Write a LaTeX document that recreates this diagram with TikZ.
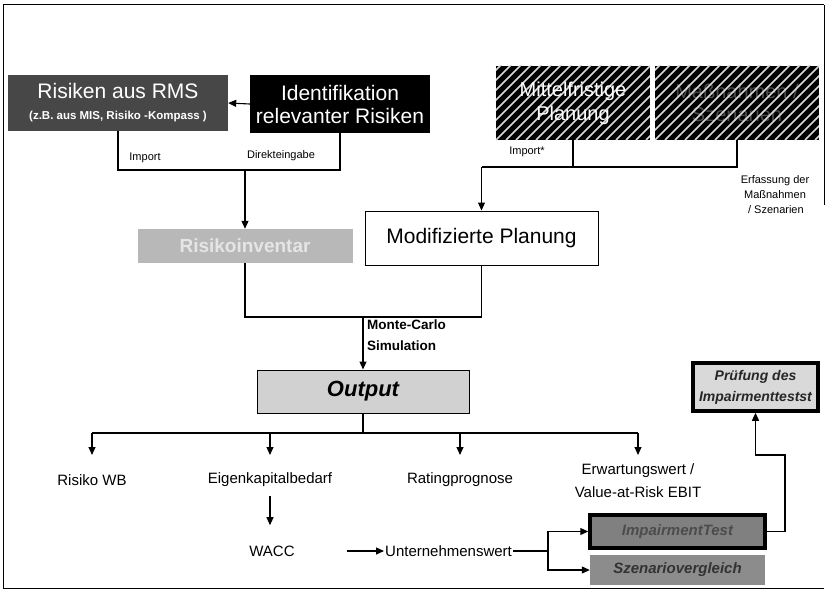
\documentclass[tikz,border=0pt]{standalone}
\usepackage{fontspec}
\setmainfont{Liberation Sans}
\usetikzlibrary{arrows.meta,calc}
\begin{document}
\begin{tikzpicture}[x=1pt,y=-1pt,
  conn/.style={line width=1.1pt,black},
  arr/.style={conn,-{Triangle[length=8pt,width=7pt]}},
  box/.style={rectangle,inner sep=0pt,align=center,font=\fontsize{21}{23}\selectfont},
  lbl/.style={inner sep=1pt,align=center,font=\fontsize{15}{20}\selectfont},
  small/.style={inner sep=1pt,align=center,font=\fontsize{11}{15}\selectfont},
  hatch/.style={white!85!black,line width=1.6pt}
]
\useasboundingbox (0,0) rectangle (827,591);
% frame
\draw[line width=1pt] (3,5) -- (824,5);
\draw[line width=1pt] (3,5) -- (3,588) -- (824,588);
\draw[line width=1pt] (824,5) -- (824,205);

% top-left boxes
\node[box,fill=black!72,minimum width=220pt,minimum height=56pt,text=white] (rms) at (118,103)
  {Risiken aus RMS\\[-2pt]{\fontsize{11.5}{13}\selectfont\bfseries (z.B. aus MIS, Risiko -Kompass )}};
\node[box,fill=black,minimum width=180pt,minimum height=58pt,text=white] (ident) at (340,104)
  {Identifikation\\relevanter Risiken};

% top-right hatched boxes
\node[box,fill=black,minimum width=154pt,minimum height=74pt] (mfp) at (573,103) {};
\node[box,fill=black,minimum width=164pt,minimum height=74pt] (mass) at (737,103) {};
\node[box,text=black!70,font=\fontsize{20}{23}\selectfont] at (mass) {Maßnahmen /\\Szenarien};
\begin{scope}
  \clip (mfp.north west) rectangle (mfp.south east);
  \foreach \i in {-100,-90,...,200} \draw[hatch] (496+\i,140) -- (576+\i,60);
\end{scope}
\begin{scope}
  \clip (mass.north west) rectangle (mass.south east);
  \foreach \i in {-100,-90,...,200} \draw[hatch] (655+\i,140) -- (735+\i,60);
\end{scope}
\node[box,text=white,font=\fontsize{20}{24}\selectfont] at (mfp) {Mittelfristige\\Planung};

% second row
\node[box,fill=black!28,minimum width=215pt,minimum height=34pt,text=black!10,font=\fontsize{19}{23}\selectfont\bfseries] (rinv) at (245,246) {Risikoinventar};
\node[box,draw=black,line width=1pt,fill=white,minimum width=233pt,minimum height=54pt] (modp) at (481.5,238) {Modifizierte Planung};

% output
\node[box,draw=black,line width=1pt,fill=black!18,minimum width=212pt,minimum height=43pt,font=\fontsize{22}{23}\selectfont\bfseries\itshape] (output) at (363,391.5) {Output};

% results
\node[lbl] (riwb) at (92,480) {Risiko WB};
\node[lbl] (ekb) at (270,480) {Eigenkapitalbedarf};
\node[lbl] (rating) at (460,480) {Ratingprognose};
\node[lbl,font=\fontsize{15}{23}\selectfont] (erw) at (638,481) {Erwartungswert /\\Value-at-Risk EBIT};
\node[lbl] (wacc) at (272,551) {WACC};
\node[lbl,anchor=west] (uw) at (384,551) {Unternehmenswert};

% right boxes
\node[box,draw=black,line width=3.5pt,fill=black!15,minimum width=125pt,minimum height=48pt,font=\fontsize{14}{21}\selectfont\bfseries\itshape,text=black!85] (pruef) at (755.5,387) {Prüfung des\\Impairmenttestst};
\node[box,draw=black,line width=3.5pt,fill=black!50,minimum width=175pt,minimum height=33pt,font=\fontsize{15}{18}\selectfont\bfseries\itshape,text=black!70] (impt) at (677.5,531.5) {ImpairmentTest};
\node[box,fill=black!45,minimum width=175pt,minimum height=30pt,font=\fontsize{15}{18}\selectfont\bfseries\itshape,text=black!80] (szen) at (677.5,570) {Szenariovergleich};

% coordinates
\coordinate (j1) at (245,170);
\coordinate (j2) at (481.5,167);
\coordinate (j3) at (363,317);
\coordinate (bus) at (363,433);
\coordinate (br) at (548,551);
\coordinate (hx) at (785,455);

% connectors top-left
\draw[arr] (ident.west) -- (rms.east);
\draw[conn] (rms.south) |- (ident.south |- j1) -- (ident.south);
\draw[arr] (j1) -- (rinv.north);
\node[small] at (145,158) {Import};
\node[small] at (281,156) {Direkteingabe};

% connectors top-right
\draw[conn] (mass.south) |- (j2);
\draw[conn] (mfp.south) -- (mfp.south |- j2);
\draw[arr] (j2) -- (modp.north);
\node[small] at (527,152) {Import*};
\node[small] at (775,195) {Erfassung der\\Maßnahmen\\\,/ Szenarien};

% to output
\draw[conn] (rinv.south) |- (modp.south |- j3) -- (modp.south);
\draw[arr] (j3) -- (output.north);
\node[anchor=north west,inner sep=0pt,align=left,font=\fontsize{13.5}{21}\selectfont\bfseries] at (367,320) {Monte-Carlo\\Simulation};

% bus
\draw[conn] (output.south) -- (bus);
\draw[conn] (riwb |- bus) -- (erw |- bus);
\foreach \n in {riwb,ekb,rating,erw}
  \draw[arr] (\n |- bus) -- ($(\n |- bus)+(0,22)$);

\draw[arr] ($(ekb.south)+(0,8)$) -- ($(ekb.south)+(0,37)$);
\draw[arr] (347,551) -- (uw.west);
\draw[conn] (uw.east) -- (br);
\draw[arr] (br) |- (impt.west);
\draw[arr] (br) |- (szen.west);
\draw[arr] (impt.east) -| (hx) -- (pruef.south |- hx) -- (pruef.south);
\end{tikzpicture}
\end{document}
